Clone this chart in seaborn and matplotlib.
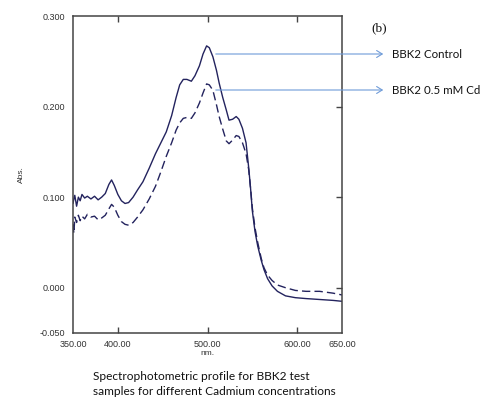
import numpy as np
import pandas as pd
import matplotlib
matplotlib.use("Agg")
import matplotlib.pyplot as plt
import seaborn as sns

sns.set_style("white")
plt.rcParams["font.family"] = ["Liberation Sans", "DejaVu Sans"]

# wavelength (nm) and absorbance
wl = [350, 351, 352, 354, 356, 358, 360, 363, 366, 370, 374, 378, 382, 386, 390, 393,
      396, 400, 404, 408, 412, 417, 422, 428, 435, 442, 448, 454, 460, 465, 469, 473,
      477, 482, 486, 491, 495, 499, 502, 506, 510, 513, 517, 521, 524, 528, 532, 535,
      539, 543, 546, 548, 550, 553, 556, 560, 563, 567, 572, 578, 587, 598, 610, 625,
      640, 650]
abs_control = [0.093, 0.098, 0.102, 0.090, 0.100, 0.096, 0.103, 0.099, 0.101, 0.098,
               0.101, 0.097, 0.100, 0.104, 0.114, 0.119, 0.113, 0.103, 0.096, 0.093,
               0.094, 0.100, 0.108, 0.117, 0.132, 0.148, 0.160, 0.172, 0.190, 0.210,
               0.224, 0.230, 0.230, 0.228, 0.234, 0.245, 0.258, 0.267, 0.265, 0.255,
               0.240, 0.226, 0.210, 0.196, 0.185, 0.186, 0.189, 0.186, 0.176, 0.160,
               0.132, 0.110, 0.085, 0.062, 0.046, 0.030, 0.020, 0.010, 0.002, -0.004,
               -0.009, -0.011, -0.012, -0.013, -0.014, -0.015]
abs_cd = [0.070, 0.060, 0.078, 0.072, 0.080, 0.074, 0.079, 0.076, 0.081, 0.078,
          0.079, 0.075, 0.077, 0.080, 0.087, 0.092, 0.089, 0.080, 0.073, 0.070,
          0.069, 0.072, 0.078, 0.086, 0.098, 0.112, 0.128, 0.145, 0.160, 0.174,
          0.182, 0.187, 0.188, 0.187, 0.193, 0.204, 0.215, 0.225, 0.224, 0.218,
          0.202, 0.189, 0.175, 0.162, 0.159, 0.163, 0.168, 0.167, 0.160, 0.148,
          0.130, 0.110, 0.088, 0.066, 0.050, 0.032, 0.022, 0.014, 0.008, 0.003,
          0.000, -0.003, -0.004, -0.004, -0.006, -0.008]
samples = ["BBK2 Control", "BBK2 0.5 mM Cd"]

df = pd.concat([
    pd.DataFrame({"nm": wl, "abs": abs_control, "sample": samples[0]}),
    pd.DataFrame({"nm": wl, "abs": abs_cd, "sample": samples[1]}),
])

navy = "#23235e"
fig = plt.figure(figsize=(4.94, 4.01), dpi=100)
ax = fig.add_axes([73/494, 68/401, 269/494, 317/401])

sns.lineplot(data=df, x="nm", y="abs", style="sample", style_order=samples,
             dashes=["", (6, 3)], color=navy, linewidth=1.0, legend=False,
             estimator=None, sort=False, ax=ax)

ax.set_xlim(350, 650)
ax.set_ylim(-0.05, 0.3)
ax.set_xticks([350, 400, 500, 600, 650])
ax.set_xticklabels(["350.00", "400.00", "500.00", "600.00", "650.00"])
ax.set_yticks([-0.05, 0.0, 0.1, 0.2, 0.3])
ax.set_yticklabels(["-0.050", "0.000", "0.100", "0.200", "0.300"])
ax.tick_params(axis="both", labelsize=6.5, labelcolor="#333333", color="#444444",
               length=4, width=1)
ax.tick_params(axis="x", direction="in", top=True, bottom=True, pad=5)
ax.tick_params(axis="y", direction="out", pad=2)
for t, x in zip(ax.xaxis.get_major_ticks(), [350, 400, 500, 600, 650]):
    if x in (350, 650):
        t.tick1line.set_visible(False)
        t.tick2line.set_visible(False)
for t, y in zip(ax.yaxis.get_major_ticks(), [-0.05, 0.0, 0.1, 0.2, 0.3]):
    if y in (-0.05, 0.3):
        t.tick1line.set_visible(False)
# right side inward ticks
ax2 = ax.secondary_yaxis("right")
ax2.set_yticks([0.0, 0.1, 0.2])
ax2.tick_params(direction="in", length=4, width=1, color="#444444", labelright=False)
ax2.spines["right"].set_visible(False)

for s in ax.spines.values():
    s.set_color("#444444")
    s.set_linewidth(1.1)

ax.set_xlabel("nm.", fontsize=6, color="#333333", labelpad=1)
ax.set_ylabel("Abs.", fontsize=6, color="#333333", labelpad=10)
ax.grid(False)

# annotation arrows to sample names
arrow_col = "#6f9bd8"
for label, ypx in zip(samples, [54, 90]):
    yf = 1 - ypx / 401
    fig.add_artist(matplotlib.patches.FancyArrowPatch(
        (213/494, yf), (386/494, yf), transform=fig.transFigure,
        arrowstyle="->,head_length=4,head_width=2.5", color=arrow_col, lw=0.8))
    fig.text(392/494, yf, label, fontsize=8.3, family="Lato",
             va="center", ha="left", color="#111111")

fig.text(371/494, 1 - 28/401, "(b)", fontsize=9.5, family="Liberation Serif",
         va="center", ha="left", color="#111111")

fig.text(93/494, 1 - 384/401,
         "Spectrophotometric profile for BBK2 test\nsamples for different Cadmium concentrations",
         fontsize=8.6, family="Lato", va="center", ha="left", color="#111111",
         linespacing=1.45)

fig.savefig("out.png", dpi=100)
